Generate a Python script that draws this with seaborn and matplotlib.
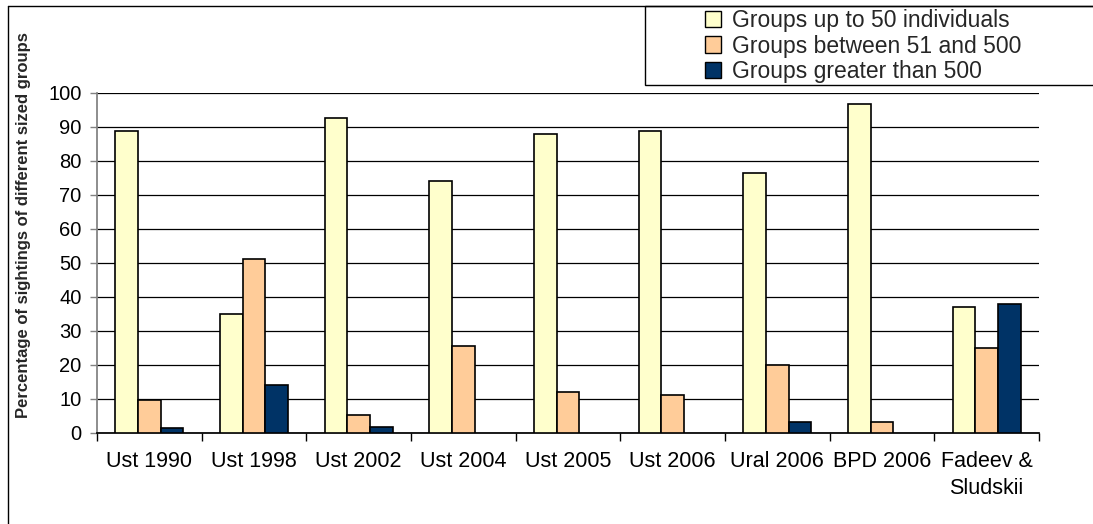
import numpy as np
import pandas as pd
import matplotlib
matplotlib.use("Agg")
import matplotlib.pyplot as plt
import seaborn as sns
from matplotlib.patches import Rectangle
from matplotlib.lines import Line2D

categories = ["Ust 1990", "Ust 1998", "Ust 2002", "Ust 2004", "Ust 2005",
              "Ust 2006", "Ural 2006", "BPD 2006", "Fadeev &\nSludskii"]
series_names = ["Groups up to 50 individuals", "Groups between 51 and 500",
                "Groups greater than 500"]
small_groups = [88.7, 35.0, 92.6, 74.2, 87.8, 88.8, 76.5, 96.7, 37.0]
medium_groups = [9.7, 51.1, 5.3, 25.7, 12.2, 11.3, 20.0, 3.3, 24.9]
large_groups = [1.4, 14.1, 1.9, np.nan, np.nan, np.nan, 3.3, np.nan, 38.0]
y_ticks = list(range(0, 101, 10))
colors = ["#FFFFCC", "#FFCC99", "#003366"]

rows = []
for name, vals in zip(series_names, [small_groups, medium_groups, large_groups]):
    for c, v in zip(categories, vals):
        rows.append({"Site": c, "Group": name, "Value": v})
df = pd.DataFrame(rows)

sns.set_theme(style="white")
plt.rcParams["font.family"] = ["Liberation Sans", "DejaVu Sans"]

W, H = 1093, 524
fig = plt.figure(figsize=(W / 100, H / 100), dpi=100)
ax = fig.add_axes([97 / W, 1 - 433 / H, (1039 - 97) / W, (433 - 93) / H])

sns.barplot(data=df, x="Site", y="Value", hue="Group", order=categories,
            hue_order=series_names, palette=colors, saturation=1, width=0.65,
            edgecolor="black", linewidth=1.2, errorbar=None, ax=ax,
            legend=False, zorder=3)

ax.set_xlim(-0.5, len(categories) - 0.5)
ax.set_ylim(0, 100)
ax.set_yticks(y_ticks)
ax.yaxis.grid(True, color="black", linewidth=0.9)
ax.set_axisbelow(True)
for s in ["top", "right"]:
    ax.spines[s].set_visible(False)
ax.spines["left"].set_color("#808080")
ax.spines["bottom"].set_color("black")
ax.tick_params(axis="y", which="major", left=True, length=5, width=1,
               color="#808080", pad=6, labelsize=14.5, labelcolor="black")
ax.tick_params(axis="x", which="major", bottom=False, length=0, pad=13,
               labelsize=15.5, labelcolor="black")
for lbl in ax.get_xticklabels():
    lbl.set_linespacing(1.35)
ax.set_xticks(np.arange(-0.5, len(categories), 1.0), minor=True)
ax.tick_params(axis="x", which="minor", bottom=True, length=6, width=1,
               color="black")
ax.set_xlabel("")
ax.set_ylabel("Percentage of sightings of different sized groups",
              fontsize=12, fontweight="bold")
ax.yaxis.set_label_coords(-(97 - 31) / (1039 - 97), (433 - 225) / (433 - 93))

# figure frame (partial, as in the reference crop)
fig.add_artist(Line2D([8 / W, 8 / W], [0, 1 - 6 / H], transform=fig.transFigure,
                      color="black", linewidth=1))
fig.add_artist(Line2D([8 / W, 1], [1 - 6 / H, 1 - 6 / H], transform=fig.transFigure,
                      color="black", linewidth=1))

# legend box
fig.add_artist(Rectangle((645 / W, 1 - 85 / H), (W - 645 + 5) / W, (85 - 6) / H,
                         transform=fig.transFigure, facecolor="white",
                         edgecolor="black", linewidth=1))
handles = [Rectangle((0, 0), 1, 1, facecolor=c, edgecolor="black", linewidth=1)
           for c in colors]
leg = fig.legend(handles, series_names, loc="center left",
                 bbox_to_anchor=(705 / W, 1 - 46 / H), frameon=False,
                 fontsize=16.5, handlelength=0.7, handleheight=0.7,
                 handletextpad=0.5, labelspacing=0.1, borderpad=0.0,
                 borderaxespad=0.0)

fig.savefig("out.png", dpi=100)
